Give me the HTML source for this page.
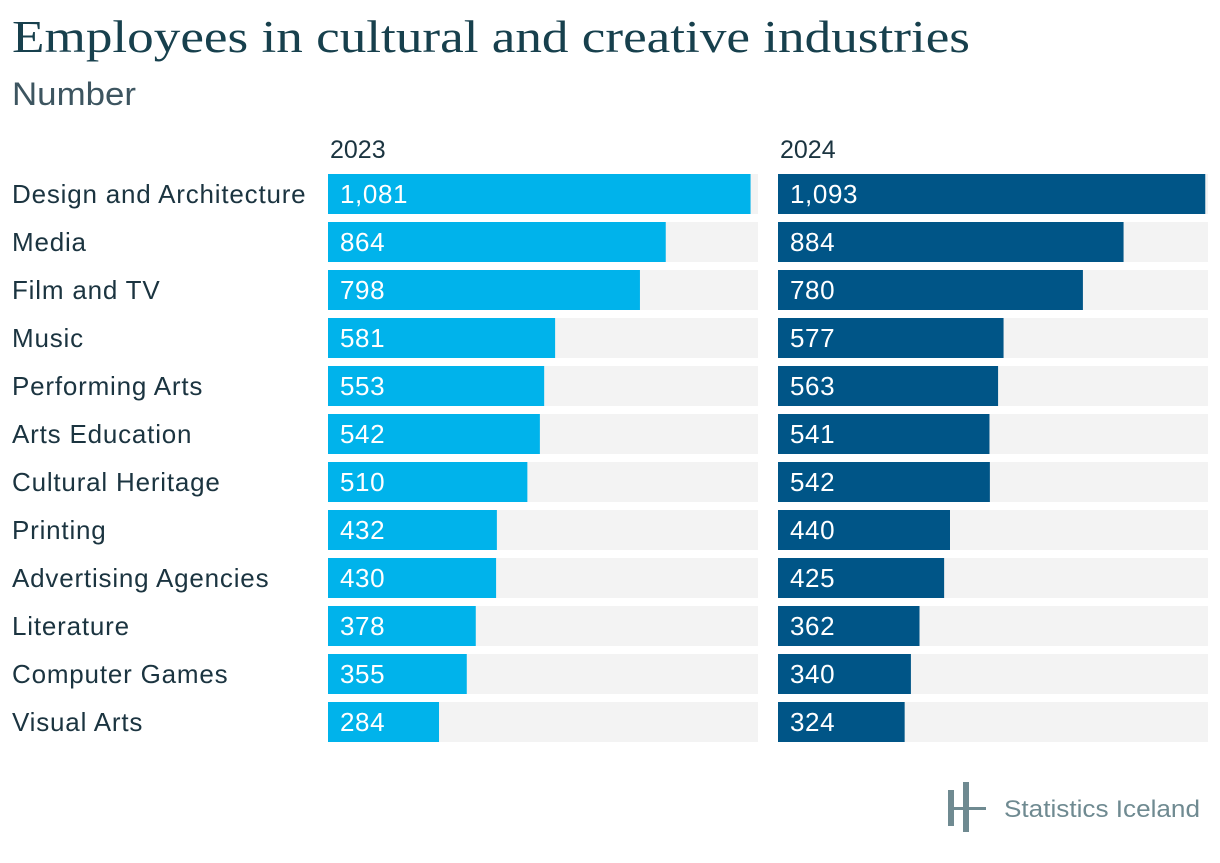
<!DOCTYPE html>
<html><head><meta charset="utf-8"><style>
body{margin:0;background:#fff;width:1220px;height:858px;overflow:hidden;font-family:"Liberation Sans",sans-serif}
</style></head><body>
<svg id="chart" width="1220" height="858" xmlns="http://www.w3.org/2000/svg">
<text x="12" y="52" font-family="Liberation Serif, serif" font-size="45" fill="#17404d" textLength="958" lengthAdjust="spacingAndGlyphs">Employees in cultural and creative industries</text>
<text x="12" y="105" font-size="32" fill="#3d5560" textLength="124" lengthAdjust="spacingAndGlyphs">Number</text>
<text x="330" y="158" font-size="25" fill="#1b3440">2023</text>
<text x="780" y="158" font-size="25" fill="#1b3440">2024</text>
<g id="bars"></g>
<g fill="#6f8a91">
<rect x="948" y="790" width="6" height="36"/>
<rect x="963" y="782" width="6" height="50"/>
<rect x="948" y="807" width="38" height="3"/>
<text x="1004" y="817" font-size="24" textLength="196" lengthAdjust="spacingAndGlyphs">Statistics Iceland</text>
</g>
</svg>
<script>
const categories=["Design and Architecture","Media","Film and TV","Music","Performing Arts","Arts Education","Cultural Heritage","Printing","Advertising Agencies","Literature","Computer Games","Visual Arts"];
const values2023=[1081,864,798,581,553,542,510,432,430,378,355,284];
const values2024=[1093,884,780,577,563,541,542,440,425,362,340,324];
const maxValue=1100;
const NS="http://www.w3.org/2000/svg";
const g=document.getElementById('bars');
function mk(t,a){const e=document.createElementNS(NS,t);for(const k in a)e.setAttribute(k,a[k]);g.appendChild(e);return e;}
const panels=[{x:328,vals:values2023,color:"#00b3eb",key:"2023"},{x:778,vals:values2024,color:"#005587",key:"2024"}];
const W=430,top0=174,pitch=48,h=40;
const xs=v=>v/maxValue*W;
categories.forEach((c,i)=>{
  const y=top0+i*pitch;
  const lab=mk('text',{x:12,y:y+29,'font-size':26,fill:'#1b3440','letter-spacing':'0.8'});
  lab.textContent=c;
  
  
  panels.forEach(p=>{
    const bg=mk('rect',{x:p.x,y:y,width:W,height:h,fill:'#f3f3f3'});
    
    
    const b=mk('rect',{x:p.x,y:y,width:xs(p.vals[i]),height:h,fill:p.color});
    
    
    const t=mk('text',{x:p.x+12,y:y+29,'font-size':26,fill:'#fff','letter-spacing':'0.6'});
    t.textContent=p.vals[i].toLocaleString('en-US');
    
    
  });
});
</script>
</body></html>
